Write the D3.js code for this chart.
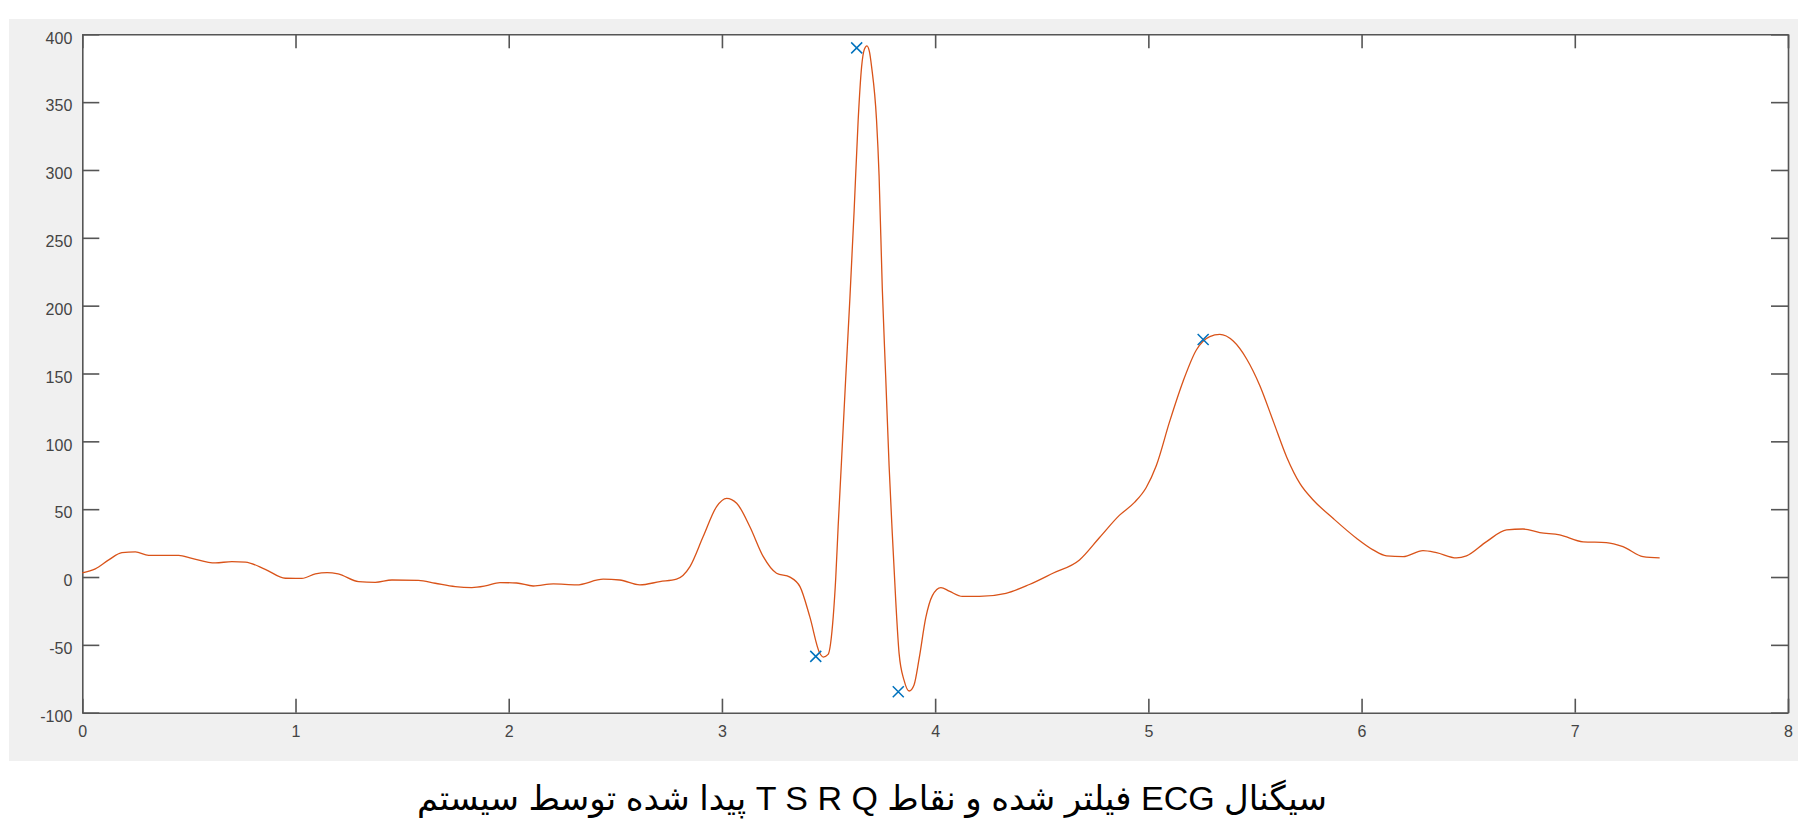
<!DOCTYPE html>
<html>
<head>
<meta charset="utf-8">
<script src="https://cdn.jsdelivr.net/npm/d3@7"></script>
<style>
  html, body { margin: 0; padding: 0; background: #ffffff; }
  svg { display: block; }
</style>
</head>
<body>
<svg id="chart" width="1798" height="834"></svg>
<script>
// filtered ECG signal
const ecgTime = [
    0.000, 0.061, 0.124, 0.186, 0.249, 0.311, 0.452, 0.514, 0.624, 0.702,
    0.765, 0.858, 0.952, 1.030, 1.093, 1.148, 1.200, 1.296, 1.374, 1.452,
    1.577, 1.655, 1.749, 1.827, 1.890, 1.959, 2.037, 2.115, 2.209, 2.318,
    2.443, 2.521, 2.615, 2.709, 2.787, 2.850, 2.912, 2.975, 3.022, 3.069,
    3.131, 3.194, 3.256, 3.319, 3.366, 3.412, 3.459, 3.475, 3.498, 3.522,
    3.534, 3.545, 3.561, 3.580, 3.600, 3.620, 3.639, 3.655, 3.668, 3.680,
    3.692, 3.702, 3.725, 3.737, 3.752, 3.768, 3.784, 3.799, 3.815, 3.831,
    3.854, 3.878, 3.901, 3.925, 3.956, 3.987, 4.027, 4.066, 4.128, 4.207,
    4.332, 4.442, 4.552, 4.677, 4.771, 4.865, 4.935, 4.990, 5.037, 5.100,
    5.163, 5.225, 5.288, 5.335, 5.398, 5.461, 5.523, 5.586, 5.649, 5.712,
    5.773, 5.866, 5.976, 6.054, 6.117, 6.195, 6.288, 6.351, 6.445, 6.492,
    6.586, 6.680, 6.757, 6.836, 6.929, 7.039, 7.148, 7.226, 7.320, 7.398
];
const ecgValue = [
    3, 6, 12.6, 18, 18.5, 16, 16, 13.8, 10.4, 11.4,
    11, 5.7, -0.9, -1, 2.3, 3.3, 2.3, -3.4, -3.9, -2.2,
    -2.5, -4.6, -7.1, -7.8, -6.6, -4.1, -4.4, -6.6, -5.1, -5.8,
    -1.6, -2.2, -5.8, -3.4, -1.6, 7.7, 29.8, 51.9, 58, 54.4,
    37.1, 15, 2.8, -0.1, -7.1, -29.2, -56.2, -59, -57, -29.2,
    0, 37, 86, 145, 205, 270, 337, 376, 389, 391.5,
    387, 376, 337, 296, 213, 148, 82, 32, -17, -56.5,
    -76, -84, -79.5, -60, -30, -13.7, -7.8, -10.4, -14.3, -14.3,
    -12, -5.5, 2.8, 12.6, 29.1, 45.6, 55, 66, 82, 114.7,
    144.3, 167.3, 177.2, 178.8, 173.9, 160.7, 141, 114.7, 88.3, 68.6,
    56.8, 43.3, 28.6, 20, 15.6, 15, 19.5, 18, 14.1, 15.6,
    26.1, 34.7, 35.4, 32.7, 31, 25.9, 25.4, 22.4, 15, 14.1
];

// detected Q R S T points
const peakName = ['Q', 'R', 'S', 'T'];
const peakTime = [3.440, 3.632, 3.827, 5.257];
const peakValue = [-58.5, 390, -84.5, 175];

const xTicks = [0, 1, 2, 3, 4, 5, 6, 7, 8];
const yTicks = [-100, -50, 0, 50, 100, 150, 200, 250, 300, 350, 400];

const caption = 'سیگنال ECG فیلتر شده و نقاط T S R Q پیدا شده توسط سیستم';

const colors = {
    line: '#D95319',
    marker: '#0072BD',
    axis: '#555555',
    tickText: '#444444',
    frame: '#f0f0f0'
};

const plot = { left: 82.3, top: 34.3, right: 1788, bottom: 712.7 };

const svg = d3.select('#chart');

// gray figure background
svg.append('rect')
    .attr('x', 9).attr('y', 19)
    .attr('width', 1789).attr('height', 742)
    .attr('fill', colors.frame);

svg.append('rect')
    .attr('x', plot.left).attr('y', plot.top)
    .attr('width', plot.right - plot.left).attr('height', plot.bottom - plot.top)
    .attr('fill', '#ffffff');

const x = d3.scaleLinear().domain([0, 8]).range([plot.left, plot.right]);
const y = d3.scaleLinear().domain([-100, 400]).range([plot.bottom, plot.top]);

// plain hyphen for negatives, like the original
const tickLabel = (d) => String(d);

function styleAxis(g) {
    g.selectAll('path, line').attr('stroke', colors.axis).attr('stroke-width', 1.6);
    g.selectAll('text')
        .attr('fill', colors.tickText)
        .attr('font-family', '"Liberation Sans", Arial, sans-serif')
        .attr('font-size', 16);
}

svg.append('g')
    .attr('transform', `translate(0,${plot.bottom})`)
    .call(d3.axisBottom(x).tickValues(xTicks).tickFormat(tickLabel)
        .tickSizeInner(-14).tickSizeOuter(0).tickPadding(12.6))
    .call(styleAxis);

svg.append('g')
    .attr('transform', `translate(0,${plot.top})`)
    .call(d3.axisTop(x).tickValues(xTicks).tickFormat('')
        .tickSizeInner(-14).tickSizeOuter(0))
    .call(styleAxis);

svg.append('g')
    .attr('transform', `translate(${plot.left},0)`)
    .call(d3.axisLeft(y).tickValues(yTicks).tickFormat(tickLabel)
        .tickSizeInner(-17).tickSizeOuter(0).tickPadding(10))
    .call(styleAxis)
    .selectAll('text').attr('dy', '0.55em');

svg.append('g')
    .attr('transform', `translate(${plot.right},0)`)
    .call(d3.axisRight(y).tickValues(yTicks).tickFormat('')
        .tickSizeInner(-17).tickSizeOuter(0))
    .call(styleAxis);

// signal
const points = ecgTime.map((t, i) => [t, ecgValue[i]]);
const line = d3.line()
    .x((d) => x(d[0]))
    .y((d) => y(d[1]))
    .curve(d3.curveMonotoneX);

svg.append('path')
    .datum(points)
    .attr('d', line)
    .attr('fill', 'none')
    .attr('stroke', colors.line)
    .attr('stroke-width', 1.3);

// x markers
const markerSize = 5.5;
svg.append('g').selectAll('path')
    .data(peakName.map((n, i) => ({ name: n, t: peakTime[i], v: peakValue[i] })))
    .enter().append('path')
    .attr('transform', (d) => `translate(${x(d.t)},${y(d.v)})`)
    .attr('d', `M${-markerSize},${-markerSize}L${markerSize},${markerSize}M${-markerSize},${markerSize}L${markerSize},${-markerSize}`)
    .attr('stroke', colors.marker)
    .attr('stroke-width', 1.5)
    .attr('fill', 'none');

// caption under the figure
svg.append('text')
    .attr('x', 872)
    .attr('y', 810)
    .attr('direction', 'rtl')
    .attr('text-anchor', 'middle')
    .attr('font-family', '"Liberation Sans", "DejaVu Sans", Arial, sans-serif')
    .attr('font-size', 34)
    .attr('fill', '#000000')
    .text(caption);
</script>
</body>
</html>
